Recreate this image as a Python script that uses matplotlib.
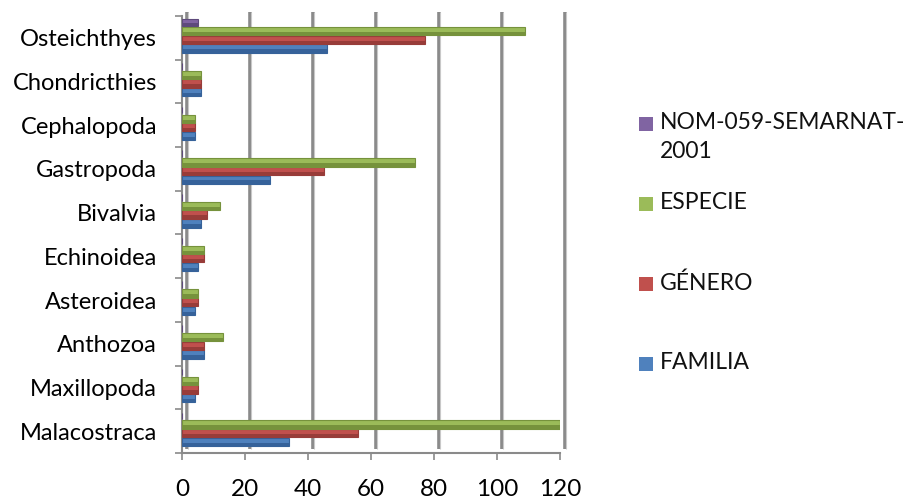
import matplotlib
matplotlib.use("Agg")
import matplotlib.pyplot as plt
import matplotlib.transforms as mtransforms
from matplotlib.patches import Rectangle
import numpy as np

plt.rcParams['font.family'] = ['Lato', 'DejaVu Sans']

# Taxonomic classes, bottom to top
categories = ["Malacostraca", "Maxillopoda", "Anthozoa", "Asteroidea", "Echinoidea",
              "Bivalvia", "Gastropoda", "Cephalopoda", "Chondricthies", "Osteichthyes"]
familia = [34, 4, 7, 4, 5, 6, 28, 4, 6, 46]
genero = [56, 5, 7, 5, 7, 8, 45, 4, 6, 77]
especie = [120, 5, 13, 5, 7, 12, 74, 4, 6, 109]
nom059 = [0, 0, 0, 0, 0, 0, 0, 0, 0, 5]

series_names = ["FAMILIA", "GÉNERO", "ESPECIE", "NOM-059-SEMARNAT-\n2001"]
x_ticks = [0, 20, 40, 60, 80, 100, 120]

FS = 16.5
W, H = 908, 504
fig = plt.figure(figsize=(W / 100, H / 100), dpi=100)
ax = fig.add_axes([182 / W, 51 / H, 378 / W, 437 / H])

y = np.arange(len(categories))
series = [familia, genero, especie, nom059]
faces = ["#4F81BD", "#C0504D", "#9BBB59", "#8064A2"]
shades = ["#36629A", "#983C39", "#76923C", "#5E4A7C"]
offsets = [-0.245, -0.045, 0.15, 0.35]
heights = [0.19, 0.19, 0.19, 0.15]

# back-wall gridlines, slightly shifted to suggest depth
shift = mtransforms.ScaledTranslation(5 / 100, 4 / 100, fig.dpi_scale_trans)
for v in x_ticks:
    ax.plot([v, v], [-0.5, 9.5], color="#8a8a8a", lw=2.6, solid_capstyle="butt",
            transform=ax.transData + shift, clip_on=False, zorder=1)
    ax.plot([v, v], [-0.5, 9.5], color="#c8c8c8", lw=0.8, solid_capstyle="butt",
            transform=ax.transData + shift + mtransforms.ScaledTranslation(1.2 / 100, 0, fig.dpi_scale_trans),
            clip_on=False, zorder=1)

for vals, face, shade, off, h in zip(series, faces, shades, offsets, heights):
    vals = np.asarray(vals, dtype=float)
    ax.barh(y + off, vals, height=h, color=face, edgecolor=shade, linewidth=0.8, zorder=3)
    ax.barh(y + off - h * 0.3, vals, height=h * 0.4, color=shade, linewidth=0, zorder=3.5)

ax.set_xlim(0, 120)
ax.set_ylim(-0.5, len(categories) - 0.5)

for s in ["top", "right"]:
    ax.spines[s].set_visible(False)
for s in ["left", "bottom"]:
    ax.spines[s].set_color("#8a8a8a")
    ax.spines[s].set_linewidth(1.5)

ax.set_xticks(x_ticks)
ax.set_xticklabels([str(v) for v in x_ticks], fontsize=17.5)
ax.tick_params(axis="x", length=5, width=1.2, color="#8a8a8a", pad=14)

ax.set_yticks(np.arange(-0.5, len(categories), 1.0))
ax.set_yticklabels([])
ax.set_yticks(y, minor=True)
ax.set_yticklabels(categories, minor=True, fontsize=17)
ax.tick_params(axis="y", which="major", length=5, width=1.2, color="#8a8a8a")
ax.tick_params(axis="y", which="minor", length=0, pad=18)

# legend, top entry first
legend_order = [3, 2, 1, 0]
legend_y = [124, 204, 284, 364]
for idx, ly in zip(legend_order, legend_y):
    fig.patches.append(Rectangle((639 / W, 1 - (ly + 7) / H), 14 / W, 14 / H,
                                 transform=fig.transFigure, facecolor=faces[idx],
                                 edgecolor="none"))
    fig.text(660 / W, 1 - (ly - 12) / H, series_names[idx], fontsize=FS,
             ha="left", va="top", linespacing=1.5, color="#111111")

fig.savefig("out.png", dpi=100)
